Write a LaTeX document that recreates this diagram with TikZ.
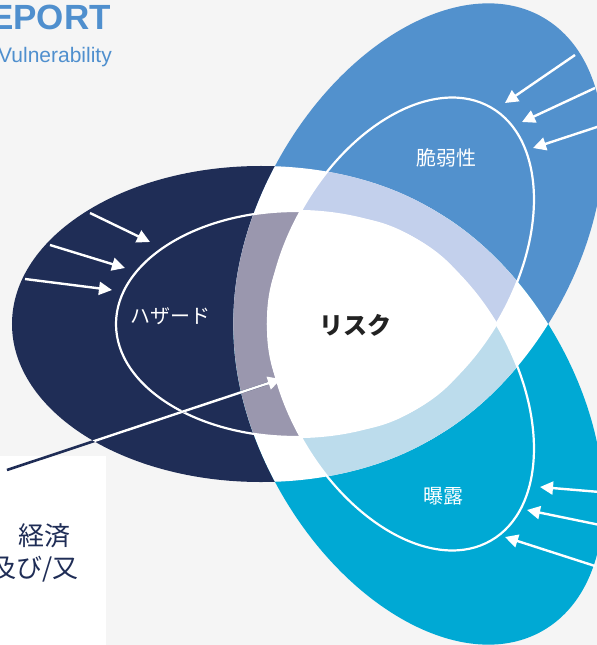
\documentclass[tikz,border=0pt]{standalone}
\usepackage{fontspec}
\setmainfont{Liberation Sans}
\newfontfamily\cjk{Noto Sans CJK JP}
\usetikzlibrary{arrows.meta}
\definecolor{bg}{HTML}{F5F5F5}
\definecolor{navy}{HTML}{1F2D56}
\definecolor{vblue}{HTML}{5291CD}
\definecolor{ecyan}{HTML}{00A9D4}
\definecolor{tpurple}{HTML}{9A97AE}
\definecolor{tlav}{HTML}{C3D0EC}
\definecolor{tcyan}{HTML}{BCDCEC}
\definecolor{titleblue}{HTML}{4F8FCE}
\definecolor{risktext}{HTML}{222222}
\newcommand\tintpair[2]{%
  \begin{scope}
    \clip #1; \clip #2;
    \fill[tpurple] \innA;
    \fill[tlav] \innB;
    \fill[tcyan] \innC;
    \begin{scope}\clip \innA; \fill[white] \innB; \fill[white] \innC; \end{scope}
    \begin{scope}\clip \innB; \fill[white] \innC; \end{scope}
  \end{scope}}
\begin{document}
\begin{tikzpicture}[x=1bp,y=1bp,
  arr/.style={white, line width=2.4bp, -{Triangle[length=13bp,width=13bp]}},
  outline/.style={white, line width=2.2bp},
  jlabel/.style={text=white, font=\cjk\fontsize{20bp}{24bp}\selectfont, inner sep=0pt}]
\useasboundingbox (0,0) rectangle (597,-645);
\fill[bg] (0,0) rectangle (597,-645);
% geometry
\coordinate (C) at (366,-324);
\coordinate (e1c) at (261,-324);
\path (C) ++(60:105) coordinate (e2c);
\path (C) ++(-60:105) coordinate (e3c);
\coordinate (i1c) at (296,-324);
\path (C) ++(60:70) coordinate (i2c);
\path (C) ++(-60:70) coordinate (i3c);
\def\ellA{(e1c) ellipse [x radius=249bp, y radius=158bp]}
\def\ellB{(e2c) ellipse [x radius=249bp, y radius=158bp, rotate=60]}
\def\ellC{(e3c) ellipse [x radius=249bp, y radius=158bp, rotate=-60]}
\def\innA{(i1c) ellipse [x radius=180bp, y radius=113bp]}
\def\innB{(i2c) ellipse [x radius=180bp, y radius=113bp, rotate=60]}
\def\innC{(i3c) ellipse [x radius=180bp, y radius=113bp, rotate=-60]}
% big ellipses
\fill[navy] \ellA;
\fill[vblue] \ellB;
\fill[ecyan] \ellC;
% overlaps white
\begin{scope}\clip \ellA; \fill[white] \ellB; \fill[white] \ellC; \end{scope}
\begin{scope}\clip \ellB; \fill[white] \ellC; \end{scope}
% tinted bands
\tintpair{\ellA}{\ellB}
\tintpair{\ellA}{\ellC}
\tintpair{\ellB}{\ellC}
% inner outlines
\draw[outline] \innA;
\draw[outline] \innB;
\draw[outline] \innC;
% white panel
\fill[white] (0,-456) rectangle (106,-645);
% arrows, hazard
\coordinate (a1s) at (90,-213);  \coordinate (a1e) at (150,-242);
\coordinate (a2s) at (50,-245);  \coordinate (a2e) at (125,-268);
\coordinate (a3s) at (25,-279);  \coordinate (a3e) at (112,-290);
\draw[arr] (a1s) -- (a1e);
\draw[arr] (a2s) -- (a2e);
\draw[arr] (a3s) -- (a3e);
% arrows, vulnerability
\coordinate (b1s) at (575,-55);  \coordinate (b1e) at (505,-103);
\coordinate (b2s) at (595,-88);  \coordinate (b2e) at (522,-122);
\coordinate (b3s) at (600,-126); \coordinate (b3e) at (533,-148);
\draw[arr] (b1s) -- (b1e);
\draw[arr] (b2s) -- (b2e);
\draw[arr] (b3s) -- (b3e);
% arrows, exposure
\coordinate (c1s) at (600,-492); \coordinate (c1e) at (540,-487);
\coordinate (c2s) at (600,-525); \coordinate (c2e) at (527,-510);
\coordinate (c3s) at (595,-566); \coordinate (c3e) at (505,-537);
\draw[arr] (c1s) -- (c1e);
\draw[arr] (c2s) -- (c2e);
\draw[arr] (c3s) -- (c3e);
% economic arrow
\coordinate (ms) at (7,-470);
\coordinate (me) at (281,-379);
\draw[navy, line width=2.6bp, shorten >=14bp] (ms) -- (me);
\begin{scope}\clip \ellA; \draw[arr] (ms) -- (me); \end{scope}
% texts
\node[anchor=base east, inner sep=0pt, text=titleblue, font=\bfseries\fontsize{35bp}{40bp}\selectfont] (ttl) at (111,-30) {EPORT};
\node[anchor=base east, inner sep=0pt, text=titleblue, font=\fontsize{21bp}{25bp}\selectfont] (sub) at (112,-63) {Vulnerability};
\node[jlabel] (haz) at (170,-316) {ハザード};
\node[jlabel] (vul) at (446,-158) {脆弱性};
\node[jlabel] (exp) at (443,-496) {曝露};
\node[text=risktext, inner sep=0pt, font=\cjk\bfseries\fontsize{24bp}{28bp}\selectfont] (risk) at (355,-325) {リスク};
\node[anchor=east, inner sep=0pt, text=navy, font=\cjk\fontsize{26bp}{30bp}\selectfont] (eco1) at (71,-536) {経済};
\node[anchor=east, inner sep=0pt, text=navy, font=\cjk\fontsize{26bp}{30bp}\selectfont] (eco2) at (79,-569) {及び/又};
\end{tikzpicture}
\end{document}
